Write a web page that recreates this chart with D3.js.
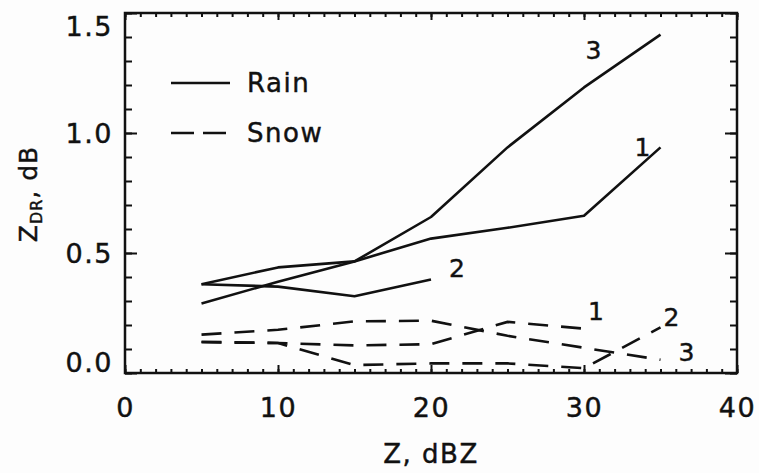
<!DOCTYPE html>
<html>
<head>
<meta charset="utf-8">
<script src="https://cdn.jsdelivr.net/npm/d3@7"></script>
<style>
  html, body { margin: 0; padding: 0; background: #fdfdfd; }
  svg { display: block; }
  text { font-family: "DejaVu Sans", sans-serif; fill: #111; stroke: #111; stroke-width: 0.45px; }
</style>
</head>
<body>
<svg id="chart" width="759" height="473"></svg>
<script>
// ---- data ----
const xTickLabels = [0, 10, 20, 30, 40];
const yTickLabels = [0.0, 0.5, 1.0, 1.5];

const rainZ1 = [5, 10, 15, 20, 25, 30, 35];
const rain1  = [0.37, 0.44, 0.465, 0.56, 0.605, 0.655, 0.94];
const rainZ2 = [5, 10, 15, 20];
const rain2  = [0.37, 0.36, 0.32, 0.39];
const rainZ3 = [5, 10, 15, 20, 25, 30, 35];
const rain3  = [0.29, 0.38, 0.465, 0.65, 0.94, 1.19, 1.41];

const snowZ1 = [5, 10, 15, 20, 25, 30];
const snow1  = [0.13, 0.125, 0.115, 0.12, 0.213, 0.185];
const snowZ2 = [5, 10, 15, 20, 25, 30, 35];
const snow2  = [0.128, 0.125, 0.033, 0.04, 0.04, 0.02, 0.19];
const snowZ3 = [5, 10, 15, 20, 25, 30, 35];
const snow3  = [0.16, 0.18, 0.215, 0.218, 0.155, 0.105, 0.055];

const seriesNames = ["Rain", "Snow"];
const lineLabels = ["1", "2", "3"];

// ---- layout ----
const svg = d3.select("#chart");
const L = 125, R = 737, T = 13, B = 373;
const x = d3.scaleLinear().domain([0, 40]).range([L, R]);
const y = d3.scaleLinear().domain([0, 1.5]).range([B, T]);

const minorX = d3.range(0, 41, 1);
const minorY = d3.range(0, 1.5001, 0.1).map(v => +v.toFixed(2));

// minor ticks
svg.append("g").attr("transform", `translate(0,${B})`)
  .call(d3.axisBottom(x).tickValues(minorX).tickSize(-4).tickFormat(""))
  .call(g => g.select(".domain").remove());
svg.append("g").attr("transform", `translate(0,${T})`)
  .call(d3.axisTop(x).tickValues(minorX).tickSize(-4).tickFormat(""))
  .call(g => g.select(".domain").remove());
svg.append("g").attr("transform", `translate(${L},0)`)
  .call(d3.axisLeft(y).tickValues(minorY).tickSize(-7).tickFormat(""))
  .call(g => g.select(".domain").remove());
svg.append("g").attr("transform", `translate(${R},0)`)
  .call(d3.axisRight(y).tickValues(minorY).tickSize(-7).tickFormat(""))
  .call(g => g.select(".domain").remove());

// major ticks with labels
const xAx = svg.append("g").attr("transform", `translate(0,${B})`)
  .call(d3.axisBottom(x).tickValues(xTickLabels).tickSize(-8).tickPadding(25).tickFormat(d3.format("d")))
  .call(g => g.select(".domain").remove());
xAx.selectAll("text").attr("font-size", 27).attr("letter-spacing", 1.5).attr("dy", "0.71em");
svg.append("g").attr("transform", `translate(0,${T})`)
  .call(d3.axisTop(x).tickValues(xTickLabels).tickSize(-7).tickFormat(""))
  .call(g => g.select(".domain").remove());

const yAx = svg.append("g").attr("transform", `translate(${L},0)`)
  .call(d3.axisLeft(y).tickValues(yTickLabels).tickSize(-12).tickPadding(12).tickFormat(d3.format(".1f")))
  .call(g => g.select(".domain").remove());
yAx.selectAll("text").attr("font-size", 27).attr("letter-spacing", 1.5)
  .attr("dy", d => d === 1.5 ? "0.83em" : (d === 0 ? "-0.06em" : "0.35em"));
svg.append("g").attr("transform", `translate(${R},0)`)
  .call(d3.axisRight(y).tickValues(yTickLabels).tickSize(-12).tickFormat(""))
  .call(g => g.select(".domain").remove());

svg.selectAll(".tick line").attr("stroke", "#111").attr("stroke-width", 2);

// frame
svg.append("rect").attr("x", L).attr("y", T).attr("width", R - L).attr("height", B - T)
  .attr("fill", "none").attr("stroke", "#111").attr("stroke-width", 2.5);

// lines
const line = d3.line().x(d => x(d[0])).y(d => y(d[1]));
const zip = (a, b) => a.map((v, i) => [v, b[i]]);
const rain = [zip(rainZ1, rain1), zip(rainZ2, rain2), zip(rainZ3, rain3)];
const snow = [zip(snowZ1, snow1), zip(snowZ2, snow2), zip(snowZ3, snow3)];

svg.append("g").selectAll("path").data(rain).join("path")
  .attr("d", line).attr("fill", "none").attr("stroke", "#111")
  .attr("stroke-width", 2.6).attr("stroke-linejoin", "round");
svg.append("g").selectAll("path").data(snow).join("path")
  .attr("d", line).attr("fill", "none").attr("stroke", "#111")
  .attr("stroke-width", 2.6).attr("stroke-dasharray", "20,13");

// line labels (placed relative to each line's last point)
rain.forEach((s, i) => {
  const p = s[s.length - 1];
  const off = [[-18, 9], [26, -2], [-67, 24]][i];
  svg.append("text").attr("x", x(p[0]) + off[0]).attr("y", y(p[1]) + off[1])
    .attr("font-size", 25).attr("text-anchor", "middle").text(lineLabels[i]);
});
snow.forEach((s, i) => {
  const p = s[s.length - 1];
  const off = [[12, -9], [11, -1], [26, 1]][i];
  svg.append("text").attr("x", x(p[0]) + off[0]).attr("y", y(p[1]) + off[1])
    .attr("font-size", 25).attr("text-anchor", "middle").text(lineLabels[i]);
});

// legend
const lg = svg.append("g");
lg.append("line").attr("x1", 171).attr("x2", 230).attr("y1", 83).attr("y2", 83)
  .attr("stroke", "#111").attr("stroke-width", 2.6);
lg.append("line").attr("x1", 171).attr("x2", 226).attr("y1", 133).attr("y2", 133)
  .attr("stroke", "#111").attr("stroke-width", 2.6).attr("stroke-dasharray", "23,9");
lg.append("text").attr("x", 247).attr("y", 92).attr("font-size", 26).attr("letter-spacing", 1.5).text(seriesNames[0]);
lg.append("text").attr("x", 247).attr("y", 142).attr("font-size", 26).attr("letter-spacing", 1.5).text(seriesNames[1]);

// axis titles
svg.append("text").attr("x", (L + R) / 2).attr("y", 463).attr("text-anchor", "middle")
  .attr("font-size", 26).attr("letter-spacing", 1.5).text("Z, dBZ");
const yt = svg.append("text").attr("transform", "translate(37,194) rotate(-90)")
  .attr("text-anchor", "middle").attr("font-size", 25).attr("letter-spacing", 1);
yt.append("tspan").text("Z");
yt.append("tspan").attr("font-size", 16).attr("dy", 5).text("DR");
yt.append("tspan").attr("dy", -5).text(",  dB");
</script>
</body>
</html>
